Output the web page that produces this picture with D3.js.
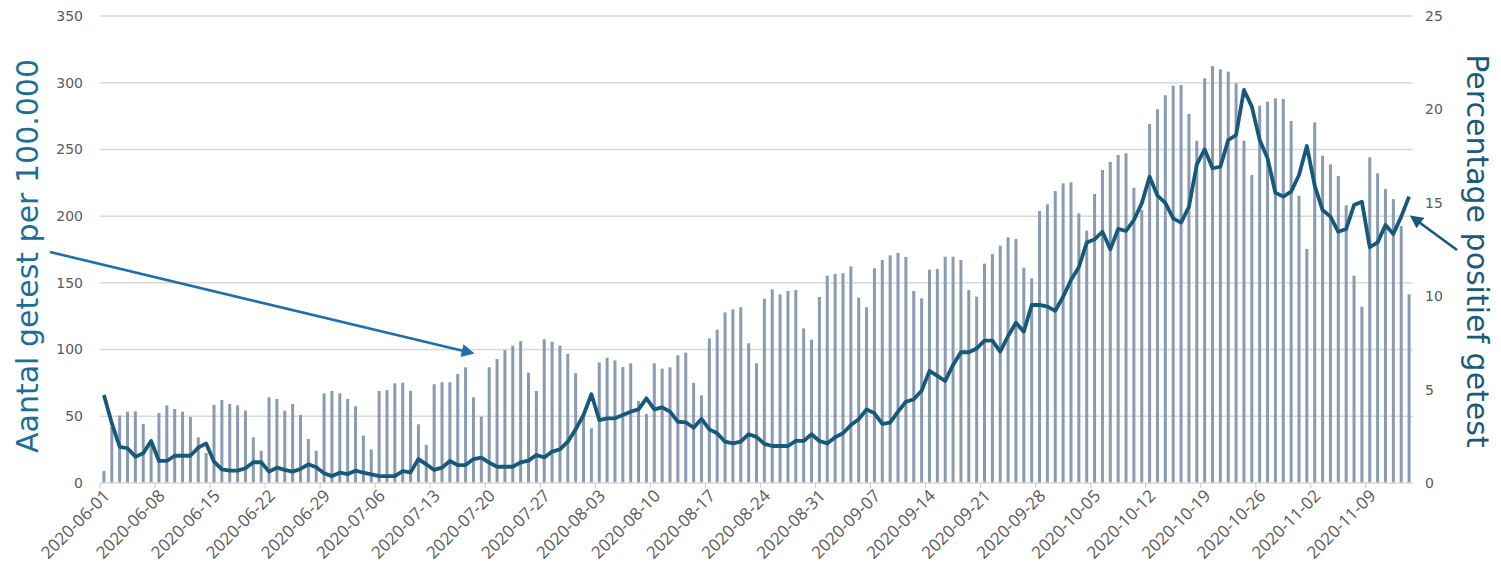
<!DOCTYPE html>
<html>
<head>
<meta charset="utf-8">
<script src="https://cdn.jsdelivr.net/npm/d3@7"></script>
<style>
  body { margin: 0; background: #fff; }
  svg { display: block; }
</style>
</head>
<body>
<div></div>
<script>
var width = 1501;
var height = 574;

// daily categories 2020-06-01 .. 2020-11-14
var fmt = d3.timeFormat("%Y-%m-%d");
var dates = d3.timeDay.range(new Date(2020, 5, 1), new Date(2020, 10, 15)).map(fmt);

// tests per 100.000 (bars, left axis)
var tested = [
    9, 42, 50.5, 53.5, 53.7, 44.2, 28,
    52.5, 58.2, 55.5, 53.5, 49.5, 34.2, 22.5,
    58.5, 62.2, 59.2, 58.2, 54.2, 34.2, 24.2,
    64.2, 63, 54.2, 59.2, 51, 33, 24.2,
    67.2, 69, 67.2, 63, 57.5, 35.5, 25.2,
    69, 69.7, 74.7, 75.2, 69, 44, 28.5,
    74, 75.5, 75.5, 81.7, 86.7, 64.2, 49.7,
    86.7, 92.9, 99.7, 102.9, 106.4, 82.7, 69,
    107.7, 105.9, 102.9, 96.7, 82.4, 50, 41,
    90.4, 93.9, 91.9, 86.9, 89.7, 61.5, 51.7,
    89.7, 85.7, 86.7, 95.7, 97.7, 75, 65.7,
    108.4, 114.9, 127.9, 130.2, 131.7, 104.7, 89.7,
    138.1, 145.2, 141.4, 143.9, 144.6, 115.9, 107.4,
    139.4, 155.4, 156.6, 157.2, 162.4, 138.9, 131.7,
    160.9, 167.1, 170.6, 172.4, 169.4, 143.9, 138.4,
    159.9, 160.4, 169.6, 169.6, 167.1, 144.6, 139.6,
    164.4, 171.6, 177.9, 184.1, 182.9, 161.4, 153.4,
    203.9, 208.9, 218.8, 224.6, 225.3, 202.1, 189.1,
    216.6, 234.6, 240.6, 245.8, 247.1, 221.3, 204.6,
    269.1, 280.1, 290.6, 297.8, 298.3, 276.6, 256.6,
    303.3, 312.5, 310, 308.3, 299.5, 256.6, 230.8,
    282.8, 285.8, 288.3, 287.8, 271.3, 215.3, 175.4,
    270.3, 245.3, 238.8, 230.1, 208.1, 155.4, 132.1,
    244.1, 232.1, 220.3, 212.8, 192.6, 141.4
];

// percentage positive (line, right axis)
var positive = [
    4.71, 3.2, 1.94, 1.86, 1.41, 1.59, 2.25,
    1.18, 1.18, 1.46, 1.46, 1.46, 1.89, 2.12,
    1.14, 0.73, 0.66, 0.66, 0.79, 1.11, 1.11,
    0.61, 0.82, 0.70, 0.61, 0.75, 1.0, 0.84,
    0.52, 0.37, 0.55, 0.48, 0.66, 0.55, 0.46,
    0.37, 0.37, 0.37, 0.64, 0.57, 1.28, 1.0,
    0.70, 0.82, 1.18, 0.96, 0.96, 1.28, 1.36,
    1.09, 0.87, 0.87, 0.87, 1.1, 1.2, 1.5,
    1.37, 1.68, 1.80, 2.21, 2.87, 3.64, 4.75,
    3.37, 3.46, 3.46, 3.64, 3.82, 3.94, 4.53,
    3.94, 4.05, 3.82, 3.28, 3.25, 2.96, 3.43,
    2.87, 2.66, 2.21, 2.12, 2.21, 2.61, 2.47,
    2.09, 1.98, 1.98, 1.98, 2.25, 2.25, 2.61,
    2.25, 2.12, 2.45, 2.66, 3.1, 3.41, 3.94,
    3.73, 3.16, 3.23, 3.82, 4.35, 4.48, 4.94,
    6.0, 5.73, 5.46, 6.32, 7.0, 7.0, 7.2,
    7.62, 7.62, 7.03, 7.87, 8.58, 8.1, 9.53,
    9.53, 9.44, 9.22, 9.97, 10.87, 11.55, 12.87,
    13.04, 13.45, 12.51, 13.6, 13.49, 14.08, 14.97,
    16.4, 15.38, 15.0, 14.17, 13.94, 14.79, 17.05,
    17.86, 16.85, 16.93, 18.36, 18.63, 21.04, 20.15,
    18.36, 17.38, 15.54, 15.33, 15.6, 16.49, 18.04,
    15.92, 14.61, 14.26, 13.45, 13.6, 14.88, 15.06,
    12.62, 12.88, 13.81, 13.33, 14.26, 15.33
];

var leftTicks = [0, 50, 100, 150, 200, 250, 300, 350];
var rightTicks = [0, 5, 10, 15, 20, 25];
var xLabels = dates.filter(function (d, i) { return i % 7 === 0; });

var leftTitle = "Aantal getest per 100.000";
var rightTitle = "Percentage positief getest";

var plot = { left: 100, right: 1413, top: 16, bottom: 483 };

var svg = d3.select("div")
    .append("svg")
    .attr("width", width)
    .attr("height", height);

var x = d3.scaleBand()
    .domain(dates)
    .range([plot.left, plot.right])
    .paddingInner(0.62)
    .paddingOuter(0.31);

var yL = d3.scaleLinear().domain([0, 350]).range([plot.bottom, plot.top]);
var yR = d3.scaleLinear().domain([0, 25]).range([plot.bottom, plot.top]);

var gap = (x.step() - x.bandwidth()) / 2;
function mid(d) { return x(d) + x.bandwidth() / 2; }

// gridlines
svg.append("g")
    .selectAll("line")
    .data(leftTicks.slice(1))
    .enter().append("line")
    .attr("x1", plot.left)
    .attr("x2", plot.right)
    .attr("y1", function (d) { return yL(d); })
    .attr("y2", function (d) { return yL(d); })
    .attr("stroke", "#d9d9d9")
    .attr("stroke-width", 1.5);

// bars
svg.append("g")
    .selectAll("rect")
    .data(tested)
    .enter().append("rect")
    .attr("x", function (d, i) { return x(dates[i]); })
    .attr("width", x.bandwidth())
    .attr("y", function (d) { return yL(d); })
    .attr("height", function (d) { return yL(0) - yL(d); })
    .attr("fill", "#8a9bb1");

// bottom axis line + ticks
svg.append("line")
    .attr("x1", plot.left).attr("x2", plot.right)
    .attr("y1", plot.bottom).attr("y2", plot.bottom)
    .attr("stroke", "#d9d9d9").attr("stroke-width", 1.5);

svg.append("g")
    .selectAll("line")
    .data(xLabels)
    .enter().append("line")
    .attr("x1", function (d) { return x(d) - gap; })
    .attr("x2", function (d) { return x(d) - gap; })
    .attr("y1", plot.bottom)
    .attr("y2", plot.bottom + 5)
    .attr("stroke", "#d0d0d0")
    .attr("stroke-width", 1.2);

// x labels
svg.append("g")
    .selectAll("text")
    .data(xLabels)
    .enter().append("text")
    .attr("transform", function (d) { return "translate(" + (mid(d) + 7) + "," + (plot.bottom + 14) + ") rotate(-45)"; })
    .attr("text-anchor", "end")
    .attr("font-family", "'Open Sans', sans-serif")
    .attr("font-size", 17)
    .attr("fill", "#595959")
    .text(function (d) { return d; });

// left axis labels
svg.append("g")
    .selectAll("text")
    .data(leftTicks)
    .enter().append("text")
    .attr("x", 83)
    .attr("y", function (d) { return yL(d); })
    .attr("dy", "0.35em")
    .attr("text-anchor", "end")
    .attr("font-family", "'DejaVu Sans', sans-serif")
    .attr("font-size", 14)
    .attr("fill", "#595959")
    .text(function (d) { return d; });

// right axis labels
svg.append("g")
    .selectAll("text")
    .data(rightTicks)
    .enter().append("text")
    .attr("x", 1425)
    .attr("y", function (d) { return yR(d); })
    .attr("dy", "0.35em")
    .attr("text-anchor", "start")
    .attr("font-family", "'DejaVu Sans', sans-serif")
    .attr("font-size", 14)
    .attr("fill", "#595959")
    .text(function (d) { return d; });

// line
var line = d3.line()
    .x(function (d, i) { return mid(dates[i]); })
    .y(function (d) { return yR(d); });

svg.append("path")
    .datum(positive)
    .attr("d", line)
    .attr("fill", "none")
    .attr("stroke", "#17597b")
    .attr("stroke-width", 3.8)
    .attr("stroke-linejoin", "round");

// axis titles
svg.append("text")
    .attr("transform", "translate(38,256) rotate(-90)")
    .attr("text-anchor", "middle")
    .attr("font-family", "'DejaVu Sans', sans-serif")
    .attr("font-size", 30)
    .attr("fill", "#1d6f97")
    .text(leftTitle);

svg.append("text")
    .attr("transform", "translate(1467,251) rotate(90)")
    .attr("text-anchor", "middle")
    .attr("font-family", "'DejaVu Sans', sans-serif")
    .attr("font-size", 30)
    .attr("fill", "#1a5a7b")
    .text(rightTitle);

// annotation arrows
var defs = svg.append("defs");
function marker(id, color) {
    defs.append("marker")
        .attr("id", id)
        .attr("viewBox", "0 0 10 10")
        .attr("refX", 8).attr("refY", 5)
        .attr("markerWidth", 5).attr("markerHeight", 5)
        .attr("orient", "auto")
        .append("path")
        .attr("d", "M0,0 L10,5 L0,10 Z")
        .attr("fill", color);
}
marker("headL", "#1f6fae");
marker("headR", "#17597b");

svg.append("line")
    .attr("x1", 50).attr("y1", 252)
    .attr("x2", 472).attr("y2", 353)
    .attr("stroke", "#1f6fae")
    .attr("stroke-width", 2.6)
    .attr("marker-end", "url(#headL)");

svg.append("line")
    .attr("x1", 1457).attr("y1", 250)
    .attr("x2", 1412).attr("y2", 217)
    .attr("stroke", "#17597b")
    .attr("stroke-width", 2.6)
    .attr("marker-end", "url(#headR)");
</script>
</body>
</html>
